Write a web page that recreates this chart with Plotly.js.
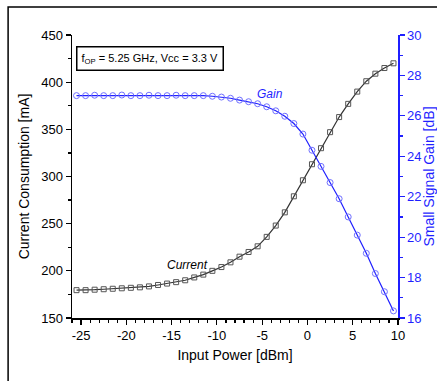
<!DOCTYPE html>
<html>
<head>
<meta charset="utf-8">
<script src="https://cdn.plot.ly/plotly-3.0.1.min.js"></script>
<style>html,body{margin:0;padding:0;background:#fff;}#chart{width:437px;height:381px;}</style>
</head>
<body>
<div id="chart"></div>
<script>
// Input power [dBm]
const inputPower = [-25.5,-24.5,-23.5,-22.5,-21.5,-20.5,-19.5,-18.5,-17.5,-16.5,-15.5,-14.5,-13.5,-12.5,-11.5,-10.5,-9.5,-8.5,-7.5,-6.5,-5.5,-4.5,-3.5,-2.5,-1.5,-0.5,0.5,1.5,2.5,3.5,4.5,5.5,6.5,7.5,8.5,9.5];
// Current consumption [mA]
const currentMA = [179.5,179.5,180,180.5,181,181.5,182,182.5,183.5,185,186.5,188,190,193,196,200,204,209,215,220,226,236,248,262,279,296,313,330,347,363,377,390,401,409,415,420];
// Small signal gain [dB]
const gainDB = [27.0,27.0,27.02,27.0,27.0,27.03,27.0,27.0,27.02,27.0,27.0,27.02,27.0,27.0,27.0,26.97,26.93,26.87,26.78,26.7,26.6,26.45,26.25,25.98,25.62,25.1,24.3,23.5,22.7,21.9,21.0,20.1,19.2,18.2,17.3,16.35];
const xTicks = [-25,-20,-15,-10,-5,0,5,10];
const yLeftTicks = [150,200,250,300,350,400,450];
const yRightTicks = [16,18,20,22,24,26,28,30];

const FONT = 'Liberation Sans, Arial, sans-serif';
const BLUE = '#1f1fff';

const traces = [
  {x: inputPower, y: currentMA, type: 'scatter', mode: 'lines+markers', name: 'Current',
   line: {color: '#333333', width: 1.2},
   marker: {symbol: 'square-open', size: 5, color: '#555555', line: {width: 1}},
   xaxis: 'x', yaxis: 'y'},
  {x: inputPower, y: gainDB, type: 'scatter', mode: 'lines+markers', name: 'Gain',
   line: {color: BLUE, width: 1.2},
   marker: {symbol: 'circle-open', size: 6, color: '#7070ff', line: {width: 1}},
   xaxis: 'x', yaxis: 'y2'}
];

const layout = {
  width: 437, height: 381,
  margin: {l: 72, r: 39, t: 35, b: 63},
  paper_bgcolor: '#ffffff', plot_bgcolor: '#ffffff',
  showlegend: false,
  font: {family: FONT, size: 13, color: '#000'},
  xaxis: {
    range: [-26, 10], tickvals: xTicks, ticktext: xTicks.map(String),
    ticks: 'outside', ticklen: 5, tickwidth: 1.2, tickcolor: '#000',
    minor: {dtick: 1, ticks: 'outside', ticklen: 3, tickcolor: '#000'},
    showline: true, linecolor: '#000', linewidth: 1.5, showgrid: false, zeroline: false,
    tickfont: {family: FONT, size: 13, color: '#000'},
    title: {text: 'Input Power [dBm]', font: {family: FONT, size: 14, color: '#000'}, standoff: 8}
  },
  xaxis2: {
    overlaying: 'x', side: 'top', matches: 'x', range: [-26, 10],
    tickvals: xTicks, showticklabels: false,
    ticks: 'inside', ticklen: 5, tickwidth: 1.2, tickcolor: '#000',
    minor: {dtick: 1, ticks: 'inside', ticklen: 3, tickcolor: '#000'},
    showline: true, linecolor: '#000', linewidth: 1.5, showgrid: false, zeroline: false
  },
  yaxis: {
    range: [150, 450], tickvals: yLeftTicks,
    ticks: 'outside', ticklen: 5, tickwidth: 1.2, tickcolor: '#000',
    minor: {dtick: 25, ticks: 'outside', ticklen: 3, tickcolor: '#000'},
    showline: true, linecolor: '#000', linewidth: 1.5, showgrid: false, zeroline: false,
    tickfont: {family: FONT, size: 13, color: '#000'},
    title: {text: 'Current Consumption [mA]', font: {family: FONT, size: 14, color: '#000'}, standoff: 8}
  },
  yaxis2: {
    overlaying: 'y', side: 'right', range: [16, 30], tickvals: yRightTicks,
    ticks: 'outside', ticklen: 5, tickwidth: 1.2, tickcolor: BLUE,
    minor: {dtick: 1, ticks: 'outside', ticklen: 3, tickcolor: BLUE},
    showline: true, linecolor: BLUE, linewidth: 1.5, showgrid: false, zeroline: false,
    tickfont: {family: FONT, size: 13, color: BLUE},
    title: {text: 'Small Signal Gain [dB]', font: {family: FONT, size: 14, color: BLUE}, standoff: 6}
  },
  shapes: [
    {type: 'path', xref: 'paper', yref: 'paper',
     path: 'M -0.196 -0.25 L -0.196 1.099 L 1.2 1.099',
     line: {color: '#000', width: 1.5}}
  ],
  annotations: [
    {xref: 'paper', yref: 'paper', x: 0.012, y: 0.96, xanchor: 'left', yanchor: 'top',
     text: 'f<sub>OP</sub> = 5.25 GHz, Vcc = 3.3 V', showarrow: false,
     font: {family: FONT, size: 11, color: '#000'},
     bordercolor: '#000', borderwidth: 1.5, borderpad: 4, bgcolor: '#fff'},
    {x: -4.1, y: 27.1, xref: 'x', yref: 'y2', text: '<i>Gain</i>', showarrow: false,
     yanchor: 'middle', font: {family: FONT, size: 12, color: BLUE}},
    {x: -13.2, y: 206, xref: 'x', yref: 'y', text: '<i>Current</i>', showarrow: false,
     font: {family: FONT, size: 12, color: '#000'}}
  ]
};

Plotly.newPlot('chart', traces, layout, {displayModeBar: false, staticPlot: true});
</script>
</body>
</html>
